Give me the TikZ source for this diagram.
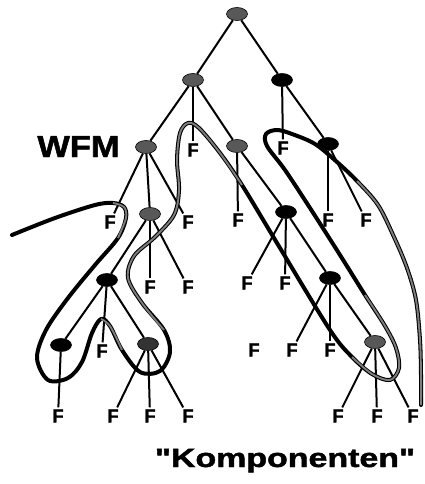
\documentclass[tikz,border=0pt]{standalone}
\usepackage{fontspec}
\setmainfont{Liberation Sans}
\newfontfamily\heavyfont[UprightFont={* Bold}, FakeBold=1.5]{Liberation Sans}
\usetikzlibrary{shapes.geometric}
\definecolor{ngray}{RGB}{88,88,88}
\definecolor{cgray}{RGB}{125,125,125}
\tikzset{
  nd/.style={ellipse, draw=black, line width=0.6pt, minimum width=21pt, minimum height=13pt, inner sep=0pt},
  gn/.style={nd, fill=ngray},
  bn/.style={nd, fill=black},
  fl/.style={font=\fontsize{18.5}{18.5}\heavyfont, inner sep=2pt},
  ed/.style={line width=2pt},
  crv/.style={line width=4pt, line cap=round, line join=round},
  crvg/.style={line width=1.9pt, draw=cgray},
}
\begin{document}
\begin{tikzpicture}[x=1pt,y=-1pt]
\useasboundingbox (0,0) rectangle (425,484);
% inner nodes
\node[gn] (R) at (237,14) {};
\node[gn] (A) at (193,80) {};
\node[bn] (B) at (282,80) {};
\node[gn] (C) at (146,147) {};
\node[gn] (D) at (237,146) {};
\node[bn] (E) at (328,144) {};
\node[gn] (G) at (150,214) {};
\node[bn] (H) at (286,212) {};
\node[bn] (I) at (107,280) {};
\node[bn] (J) at (330,278) {};
\node[bn] (K) at (61,345) {};
\node[nd, fill=black!80] (L) at (148,344) {};
\node[gn] (M) at (375,342) {};
% leaves
\node[fl] (fa) at (193,150) {F};
\node[fl] (fb) at (283,148) {F};
\node[fl] (f1) at (110,222) {F};
\node[fl] (f2) at (188,222) {F};
\node[fl] (f3) at (238,220) {F};
\node[fl] (f4) at (328,220) {F};
\node[fl] (f5) at (366,220) {F};
\node[fl] (f6) at (150,287) {F};
\node[fl] (f7) at (188,287) {F};
\node[fl] (f8) at (247,283) {F};
\node[fl] (f9) at (285,283) {F};
\node[fl] (f10) at (102,351) {F};
\node[fl] (f11) at (292,350) {F};
\node[fl] (f12) at (330,350) {F};
\node[fl] (f13) at (254,350) {F};
\node[fl] (f14) at (58,416) {F};
\node[fl] (f15) at (113,416) {F};
\node[fl] (f16) at (150,416) {F};
\node[fl] (f17) at (188,416) {F};
\node[fl] (f18) at (338,416) {F};
\node[fl] (f19) at (377,416) {F};
\node[fl] (f20) at (413,416) {F};
% edges
\draw[ed] (R) -- (A); \draw[ed] (R) -- (B);
\draw[ed] (A) -- (C); \draw[ed] (A) -- (fa); \draw[ed] (A) -- (D);
\draw[ed] (B) -- (fb); \draw[ed] (B) -- (E);
\draw[ed] (C) -- (f1); \draw[ed] (C) -- (G); \draw[ed] (C) -- (f2);
\draw[ed] (D) -- (f3); \draw[ed] (D) -- (H);
\draw[ed] (E) -- (f4); \draw[ed] (E) -- (f5);
\draw[ed] (G) -- (I); \draw[ed] (G) -- (f6); \draw[ed] (G) -- (f7);
\draw[ed] (H) -- (f8); \draw[ed] (H) -- (f9); \draw[ed] (H) -- (J);
\draw[ed] (I) -- (K); \draw[ed] (I) -- (f10); \draw[ed] (I) -- (L);
\draw[ed] (J) -- (f11); \draw[ed] (J) -- (f12); \draw[ed] (J) -- (M);
\draw[ed] (K) -- (f14);
\draw[ed] (L) -- (f15); \draw[ed] (L) -- (f16); \draw[ed] (L) -- (f17);
\draw[ed] (M) -- (f18); \draw[ed] (M) -- (f19); \draw[ed] (M) -- (f20);
% the encircling curve
\draw[crv] plot[smooth, tension=0.55] coordinates {
 (12,235) (55,218) (95,205) (113,203) (124,207) (126,218) (118,238) (95,265)
 (68,298) (46,330) (37,358) (48,380) (68,378) (82,362) (92,333) (101,319)
 (110,326) (122,350) (140,372) (160,371) (170,352) (164,330) (142,303) (128,278)
 (134,256) (155,237) (174,215) (179,190) (177,160) (180,133) (188,123) (199,128)
 (220,153) (242,185) (280,248) (330,330) (352,357) (372,374) (390,380) (399,368)
 (396,348) (385,326) (365,295) (340,255) (310,208) (285,170) (267,146) (266,134)
 (277,130) (292,134) (315,144) (337,162) (357,181) (378,205) (394,237) (407,268)
 (416,300) (420,340) (421,375) (421,405)};
\draw[crvg] plot[smooth, tension=0.55] coordinates {(113,203) (124,207) (126,218) (118,238)};
\draw[crvg] plot[smooth, tension=0.55] coordinates {(101,319) (110,326) (122,350)};
\draw[crvg] plot[smooth, tension=0.55] coordinates {(164,330) (142,303) (128,278)
 (134,256) (155,237) (174,215) (179,190) (177,160) (180,133) (188,123) (199,128)
 (220,153) (242,185)};
\draw[crvg] plot[smooth, tension=0.55] coordinates {(352,357) (372,374) (390,380) (399,368)
 (396,348) (385,326) (365,295)};
\draw[crvg] plot[smooth, tension=0.55] coordinates {(357,181) (378,205) (394,237) (407,268)
 (416,300) (420,340) (421,375) (421,405)};
% labels
\node[anchor=base, inner sep=0pt, font=\fontsize{30.5}{30.5}\heavyfont] (wfm) at (78.5,157) {\scalebox{1.13}[1]{WFM}};
\node[anchor=base, inner sep=0pt, font=\fontsize{26.5}{26.5}\heavyfont] (komp) at (285,467) {\scalebox{1.28}[1]{\char34 Komponenten\char34}};
\end{tikzpicture}
\end{document}
